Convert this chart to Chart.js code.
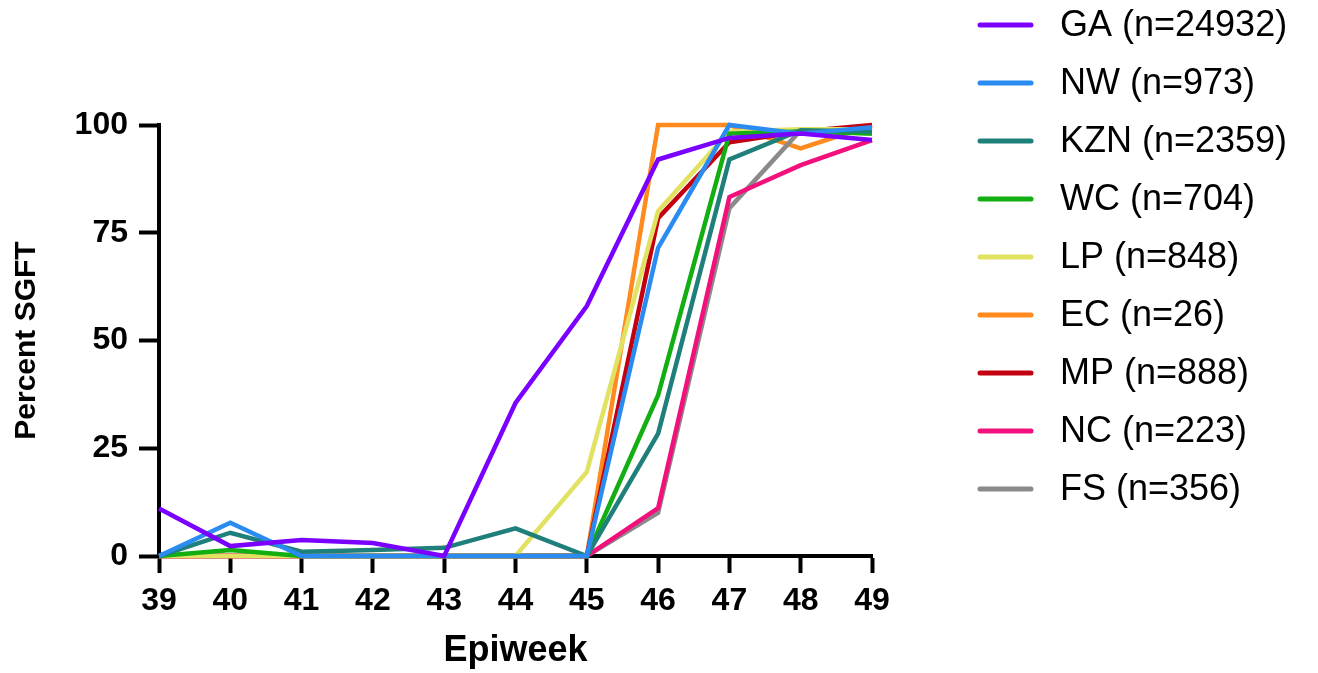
<!DOCTYPE html>
<html><head><meta charset="utf-8">
<script src="https://cdn.jsdelivr.net/npm/chart.js@4"></script>
<style>html,body{margin:0;padding:0;background:#fff;overflow:hidden}#wrap{width:1318px;height:673px;position:relative}</style>
</head><body><div id="wrap"><canvas id="c"></canvas></div>
<script>
const epiweeks = ['39','40','41','42','43','44','45','46','47','48','49'];
const seriesNames = ['GA (n=24932)','NW (n=973)','KZN (n=2359)','WC (n=704)','LP (n=848)','EC (n=26)','MP (n=888)','NC (n=223)','FS (n=356)'];
const GA  = [11, 2.3, 3.7, 3.0, 0, 35.5, 58, 92, 97, 98, 96.5];
const NW  = [0, 7.7, 0, 0, 0, 0, 0, 71.5, 100, 98, 99.5];
const KZN = [0, 5.4, 1.0, 1.4, 1.9, 6.4, 0, 28.4, 92, 98.8, 98.5];
const WC  = [0, 1.4, 0, 0, 0, 0, 0, 37.3, 98, 98.5, 98];
const LP  = [0, 0, 0, 0, 0, 0, 19.5, 80, 98.5, 99, 99];
const EC  = [0, 0, 0, 0, 0, 0, 0, 100, 100, 94.6, 100];
const MP  = [0, 0, 0, 0, 0, 0, 0, 78.4, 96, 98.5, 100];
const NC  = [0, 0, 0, 0, 0, 0, 0, 11.1, 83.3, 90.7, 96.5];
const FS  = [0, 0, 0, 0, 0, 0, 0, 10, 80.7, 98.8, 98];
const seriesValues = [GA, NW, KZN, WC, LP, EC, MP, NC, FS];
const yTicks = [0, 25, 50, 75, 100];

const seriesColors = ['#7a00ff','#2a8cf0','#1f7f7a','#12ae12','#e2e262','#ff8a1e','#c20010','#f2107c','#8a8a8a'];
const drawOrder = [0, 0, 0, 0, 0, 1, 0, 0, 0];
const FONT = '"Liberation Sans", Arial, Helvetica, sans-serif';

const legendPlugin = {
  id: 'sideLegend',
  afterDraw(chart) {
    const ctx = chart.ctx;
    ctx.save();
    chart.data.datasets.forEach((ds, i) => {
      const y = 25 + i * 58;
      ctx.strokeStyle = ds.borderColor;
      ctx.lineWidth = 5;
      ctx.lineCap = 'round';
      ctx.beginPath(); ctx.moveTo(980, y); ctx.lineTo(1031, y); ctx.stroke();
      ctx.fillStyle = '#000';
      ctx.font = '36px ' + FONT;
      ctx.textBaseline = 'middle';
      ctx.textAlign = 'left';
      ctx.fillText(ds.label, 1060, y + 1);
    });
    ctx.restore();
  }
};

new Chart(document.getElementById('c'), {
  type: 'line',
  data: {
    labels: epiweeks,
    datasets: seriesNames.map((name, i) => ({
      label: name,
      data: seriesValues[i],
      borderColor: seriesColors[i],
      backgroundColor: seriesColors[i],
      borderWidth: 4.5,
      pointRadius: 0,
      tension: 0,
      clip: false,
      fill: false,
      order: drawOrder[i]
    }))
  },
  options: {
    responsive: true,
    maintainAspectRatio: false,
    animation: false,
    devicePixelRatio: 1,
    layout: { padding: { top: 125, right: 446, bottom: 0, left: 0 } },
    plugins: { legend: { display: false }, tooltip: { enabled: false } },
    scales: {
      x: {
        type: 'category',
        offset: false,
        afterFit(scale) { scale.height = 117; },
        grid: { drawOnChartArea: false, drawTicks: true, tickLength: 17, tickWidth: 4, tickColor: '#000' },
        border: { display: true, color: '#000', width: 4 },
        ticks: { color: '#000', padding: 9, maxRotation: 0, autoSkip: false, font: { family: FONT, size: 32, weight: 'bold' } },
        title: { display: true, text: 'Epiweek', color: '#000', padding: { top: 0, bottom: 0 }, font: { family: FONT, size: 36, weight: 'bold' } }
      },
      y: {
        min: 0, max: 100,
        afterFit(scale) { scale.width = 159; },
        afterBuildTicks(scale) { scale.ticks = yTicks.map(v => ({ value: v })); },
        grid: { drawOnChartArea: false, drawTicks: true, tickLength: 20, tickWidth: 4, tickColor: '#000' },
        border: { display: true, color: '#000', width: 4 },
        ticks: { color: '#000', padding: 11, font: { family: FONT, size: 32, weight: 'bold' } },
        title: { display: true, text: 'Percent SGFT', color: '#000', padding: { top: 9, bottom: 0 }, font: { family: FONT, size: 30, weight: 'bold' } }
      }
    }
  },
  plugins: [legendPlugin]
});
</script>
</body></html>
